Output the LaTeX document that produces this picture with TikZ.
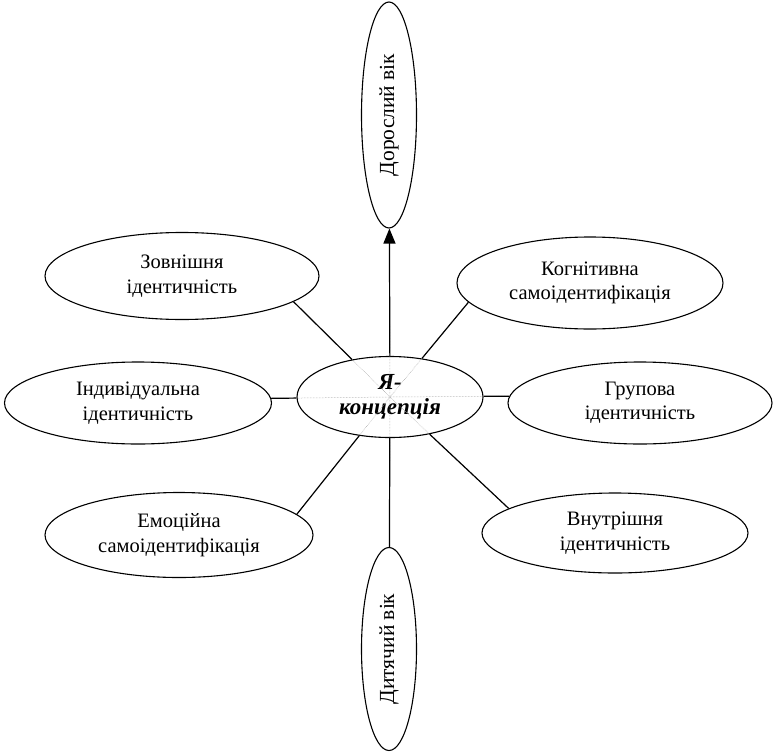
\documentclass[tikz,border=0pt]{standalone}
\usepackage{fontspec}
\setmainfont{Liberation Serif}
\usetikzlibrary{shapes.geometric,arrows.meta}
\begin{document}
\begin{tikzpicture}[x=1pt,y=-1pt,
  oval/.style={draw,ellipse,line width=1.1pt,inner sep=0pt,align=center,
    font=\fontsize{20.5}{24.5}\selectfont},
  conn/.style={line width=1.2pt},
  innerdot/.style={densely dotted,gray!80,line width=0.5pt}]
\useasboundingbox (0,0) rectangle (773,752);
% nodes
\node[oval,minimum width=186pt,minimum height=81pt,
  font=\fontsize{23}{25}\selectfont\bfseries\itshape] (c) at (390,397) {Я-\\концепція};
\node[oval,rotate=90,minimum width=226pt,minimum height=55pt,font=\fontsize{21.5}{24}\selectfont] (adult) at (389,115) {Дорослий вік};
\node[oval,rotate=90,minimum width=203pt,minimum height=55pt,font=\fontsize{21.5}{24}\selectfont] (child) at (389,649) {Дитячий вік};
\node[oval,minimum width=274pt,minimum height=87pt] (zov) at (182,276) {Зовнішня\\ідентичність};
\node[oval,minimum width=267pt,minimum height=82pt] (ind) at (138,403) {Індивідуальна\\ідентичність};
\node[oval,minimum width=268pt,minimum height=85pt] (emo) at (179,535) {Емоційна\\самоідентифікація};
\node[oval,minimum width=266pt,minimum height=92pt] (kog) at (590,283) {Когнітивна\\самоідентифікація};
\node[oval,minimum width=264pt,minimum height=82pt] (grp) at (640,403) {Групова\\ідентичність};
\node[oval,minimum width=266pt,minimum height=80pt] (vnu) at (615,533) {Внутрішня\\ідентичність};
% dotted parts inside the centre
\draw[innerdot] (c.center) -- (adult);
\draw[innerdot] (c.center) -- (child);
\draw[innerdot] (c.center) -- (zov.-13.5);
\draw[innerdot] (c.center) -- (ind.2.5);
\draw[innerdot] (c.center) -- (emo.10.4);
\draw[innerdot] (c.center) -- (kog.-171.2);
\draw[innerdot] (c.center) -- (grp.177.4);
\draw[innerdot] (c.center) -- (vnu.167.7);
% connectors
\draw[conn,-{Triangle[length=15pt,width=12pt]}] (c) -- (adult);
\draw[conn] (c) -- (child);
\draw[conn] (c) -- (zov.-13.5);
\draw[conn] (c) -- (ind.2.5);
\draw[conn] (c) -- (emo.10.4);
\draw[conn] (c) -- (kog.-171.2);
\draw[conn] (c) -- (grp.177.4);
\draw[conn] (c) -- (vnu.167.7);
\end{tikzpicture}
\end{document}
